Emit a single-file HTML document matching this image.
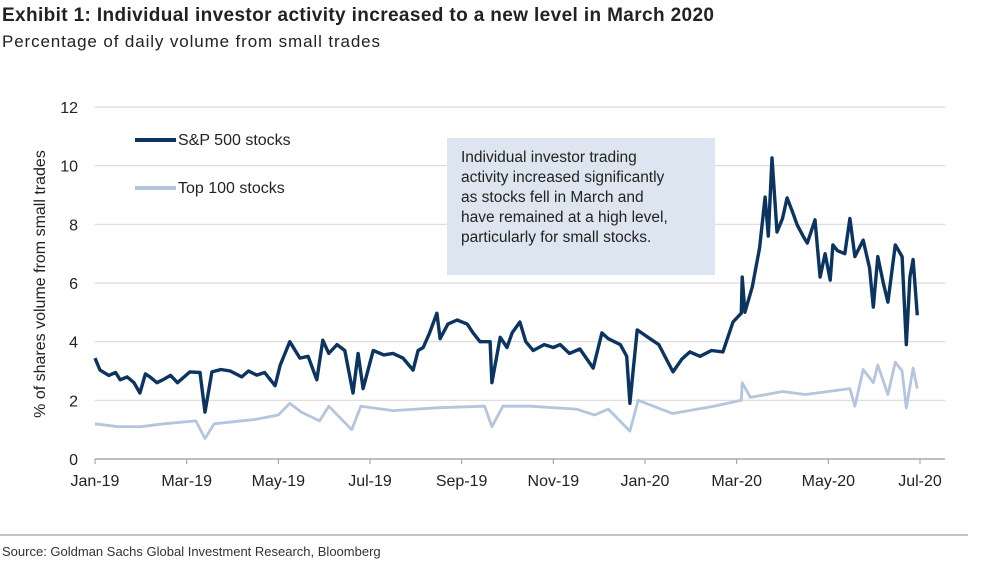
<!DOCTYPE html>
<html><head><meta charset="utf-8"><style>
body{margin:0;background:#fff;width:1000px;height:569px;overflow:hidden;font-family:"Liberation Sans",sans-serif}
</style></head><body>
<svg width="1000" height="569" font-family="Liberation Sans, sans-serif">
<text x="2" y="21" font-size="19" font-weight="bold" fill="#222" textLength="712">Exhibit 1: Individual investor activity increased to a new level in March 2020</text>
<text x="2" y="47" font-size="17" fill="#222" textLength="378">Percentage of daily volume from small trades</text>
<g id="grid"></g>
<g id="yt"></g>
<g id="xt"></g>
<text transform="translate(45,284) rotate(-90)" text-anchor="middle" font-size="16" fill="#222">% of shares volume from small trades</text>
<rect x="447" y="138" width="268" height="137" fill="#dde6f0"/>
<g font-size="15.5" fill="#222">
<text x="461" y="162">Individual investor trading</text>
<text x="461" y="182">activity increased significantly</text>
<text x="461" y="202">as stocks fell in March and</text>
<text x="461" y="222">have remained at a high level,</text>
<text x="461" y="242">particularly for small stocks.</text>
</g>
<g><line x1="135" y1="140" x2="176" y2="140" stroke="#0c3460" stroke-width="4"/><text x="178" y="145" font-size="16" fill="#222">S&amp;P 500 stocks</text></g>
<g><line x1="135" y1="188" x2="176" y2="188" stroke="#b3c6dd" stroke-width="4"/><text x="178" y="193" font-size="16" fill="#222">Top 100 stocks</text></g>
<path id="top" fill="none" stroke="#b3c6dd" stroke-width="2.8" stroke-linejoin="round"/>
<path id="sp" fill="none" stroke="#0c3460" stroke-width="3.4" stroke-linejoin="round"/>
<line x1="0" y1="535" x2="968" y2="535" stroke="#888"/>
<text x="2" y="556" font-size="13" fill="#333">Source: Goldman Sachs Global Investment Research, Bloomberg</text>
</svg>
<script>
const yTicks=[0,2,4,6,8,10,12];
const xLabels=["Jan-19","Mar-19","May-19","Jul-19","Sep-19","Nov-19","Jan-20","Mar-20","May-20","Jul-20"];
const spMonths=[0,0.11,0.3,0.45,0.55,0.7,0.85,0.98,1.1,1.2,1.35,1.48,1.65,1.8,2.07,2.29,2.4,2.55,2.75,2.95,3.2,3.35,3.53,3.7,3.93,4.04,4.25,4.47,4.65,4.84,4.97,5.1,5.28,5.45,5.63,5.74,5.85,6.07,6.3,6.5,6.72,6.94,7.05,7.16,7.3,7.46,7.53,7.7,7.9,8.12,8.25,8.4,8.62,8.66,8.84,8.99,9.1,9.27,9.4,9.56,9.8,10.0,10.15,10.35,10.58,10.87,11.06,11.2,11.46,11.6,11.67,11.83,12.11,12.3,12.61,12.8,12.98,13.2,13.45,13.7,13.92,14.1,14.12,14.18,14.34,14.5,14.62,14.69,14.77,14.88,15.0,15.1,15.2,15.32,15.45,15.54,15.71,15.82,15.93,16.04,16.1,16.2,16.36,16.47,16.58,16.76,16.9,16.98,17.08,17.2,17.3,17.46,17.61,17.7,17.78,17.85,17.94];
const spValues=[3.44,3.03,2.85,2.95,2.7,2.8,2.6,2.25,2.9,2.8,2.6,2.7,2.85,2.6,2.97,2.95,1.6,2.97,3.05,3.0,2.8,3.0,2.86,2.95,2.5,3.2,4.0,3.44,3.5,2.7,4.05,3.6,3.9,3.7,2.25,3.6,2.4,3.7,3.55,3.6,3.44,3.03,3.7,3.8,4.3,4.97,4.1,4.6,4.74,4.6,4.3,4.0,4.0,2.6,4.15,3.8,4.3,4.67,4.0,3.7,3.9,3.8,3.9,3.6,3.75,3.1,4.3,4.1,3.9,3.5,1.9,4.4,4.1,3.9,2.97,3.4,3.65,3.5,3.7,3.65,4.67,4.97,6.2,5.0,5.87,7.2,8.93,7.6,10.26,7.74,8.2,8.9,8.5,7.98,7.6,7.36,8.15,6.2,7.0,6.1,7.3,7.1,7.0,8.2,6.9,7.46,6.5,5.18,6.9,6.0,5.35,7.3,6.9,3.9,6.2,6.8,4.9];
const topMonths=[0,0.5,1,1.5,2.2,2.4,2.6,3.5,4,4.25,4.5,4.9,5.1,5.6,5.8,6.5,7.5,8.5,8.66,8.9,9.5,10.5,10.9,11.2,11.67,11.85,12.6,13.5,14.1,14.12,14.3,15,15.5,16,16.47,16.58,16.76,16.98,17.08,17.3,17.46,17.61,17.7,17.85,17.94];
const topValues=[1.2,1.1,1.1,1.2,1.3,0.7,1.2,1.35,1.5,1.9,1.6,1.3,1.8,1.0,1.8,1.65,1.75,1.8,1.1,1.8,1.8,1.7,1.5,1.7,0.95,2.0,1.55,1.8,2.0,2.6,2.1,2.3,2.2,2.3,2.4,1.8,3.05,2.6,3.2,2.2,3.3,3.0,1.74,3.1,2.4];
const X=m=>95+m*825/18, Y=v=>459-v*352/12;
const NS="http://www.w3.org/2000/svg";
const grid=document.getElementById('grid'),yt=document.getElementById('yt'),xt=document.getElementById('xt');
yTicks.forEach(t=>{
 const l=document.createElementNS(NS,'line');
 l.setAttribute('x1',95);l.setAttribute('x2',945);l.setAttribute('y1',Y(t));l.setAttribute('y2',Y(t));
 l.setAttribute('stroke',t===0?'#999':'#d9d9d9');l.setAttribute('stroke-width',1.2);
 
 
 grid.appendChild(l);
 const tx=document.createElementNS(NS,'text');
 tx.setAttribute('x',78);tx.setAttribute('y',Y(t)+6);tx.setAttribute('text-anchor','end');tx.setAttribute('font-size','16');tx.setAttribute('fill','#222');
 tx.textContent=t;
 
 
 yt.appendChild(tx);
});
xLabels.forEach((s,i)=>{
 const m=i*2,x=X(m);
 const l=document.createElementNS(NS,'line');
 l.setAttribute('x1',x);l.setAttribute('x2',x);l.setAttribute('y1',459);l.setAttribute('y2',464);l.setAttribute('stroke','#999');
 
 
 xt.appendChild(l);
 const tx=document.createElementNS(NS,'text');
 tx.setAttribute('x',x);tx.setAttribute('y',486);tx.setAttribute('text-anchor','middle');tx.setAttribute('font-size','16');tx.setAttribute('fill','#222');
 tx.textContent=s;
 
 
 xt.appendChild(tx);
});
const path=(ms,vs)=>ms.map((m,i)=>(i?'L':'M')+X(m).toFixed(1)+' '+Y(vs[i]).toFixed(1)).join('');
document.getElementById('sp').setAttribute('d',path(spMonths,spValues));
document.getElementById('top').setAttribute('d',path(topMonths,topValues));
</script>
</body></html>
